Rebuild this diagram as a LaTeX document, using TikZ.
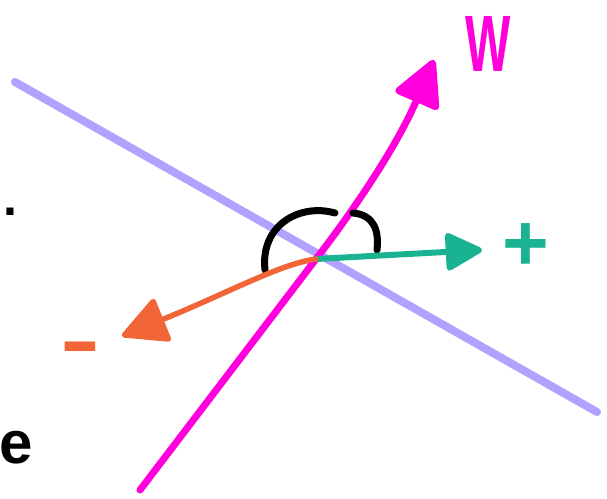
\documentclass[tikz,border=0pt]{standalone}
\usepackage{fontspec}
\setmainfont{Liberation Sans}
\usetikzlibrary{arrows.meta}
\definecolor{planeviolet}{HTML}{B3A1FF}
\definecolor{wmagenta}{HTML}{FF00DC}
\definecolor{posteal}{HTML}{1AB392}
\definecolor{negorange}{HTML}{F26536}
\tikzset{
  pen/.style={line width=#1,line cap=round,line join=round},
  pen/.default={7pt},
  vecarrow/.style={-{Triangle[length=#1,width=#1,round]}},
  vecarrow/.default={34pt},
  handlabel/.style={font=\fontsize{80}{80}\selectfont\bfseries,inner sep=0pt,text=#1},
}
\begin{document}
\begin{tikzpicture}[x=1pt,y=-1pt]
  \useasboundingbox (0,0) rectangle (607,498);
  \coordinate (origin) at (316,259);
  \coordinate (pl) at (15,82);
  \coordinate (pr) at (597,412);
  \coordinate (wbase) at (140,490);
  \coordinate (wtip) at (434,60);
  \coordinate (postip) at (482,250);
  \coordinate (negtip) at (122,336);
  \coordinate (arcl) at (265,270);
  \coordinate (arcm) at (335,213);
  \coordinate (arcn) at (353,213);
  \coordinate (arcr) at (377,250);
  % decision boundary
  \draw[pen=8pt,planeviolet] (pl) -- (pr);
  % weight vector
  \draw[pen=7pt,wmagenta,vecarrow=50pt] (wbase) -- (origin)
    .. controls (350,215) and (395,150) .. (wtip);
  \node[handlabel=wmagenta,xscale=0.6] (wlabel) at (488,44) {W};
  % angle mark
  \draw[pen=7pt,black] (arcl) .. controls (260,225) and (300,203) .. (arcm);
  \draw[pen=7pt,black] (arcn) .. controls (375,215) and (379,232) .. (arcr);
  % positive side
  \draw[pen=6pt,posteal,vecarrow=40pt] (origin) -- (postip);
  \node[handlabel=posteal] (plus) at (526,247) {+};
  % negative side
  \draw[pen=5.5pt,negorange,vecarrow=48pt] (origin)
    .. controls (280,264) and (230,292) .. (negtip);
  \node[handlabel=negorange,xscale=1.5] (minus) at (80,355) {-};
  % text at the left edge
  \node[handlabel=black,font=\fontsize{50}{50}\selectfont\bfseries] (dot) at (10,212) {.};
  \node[handlabel=black,font=\fontsize{60}{60}\selectfont\bfseries] (cute) at (16,448) {e};
\end{tikzpicture}
\end{document}
